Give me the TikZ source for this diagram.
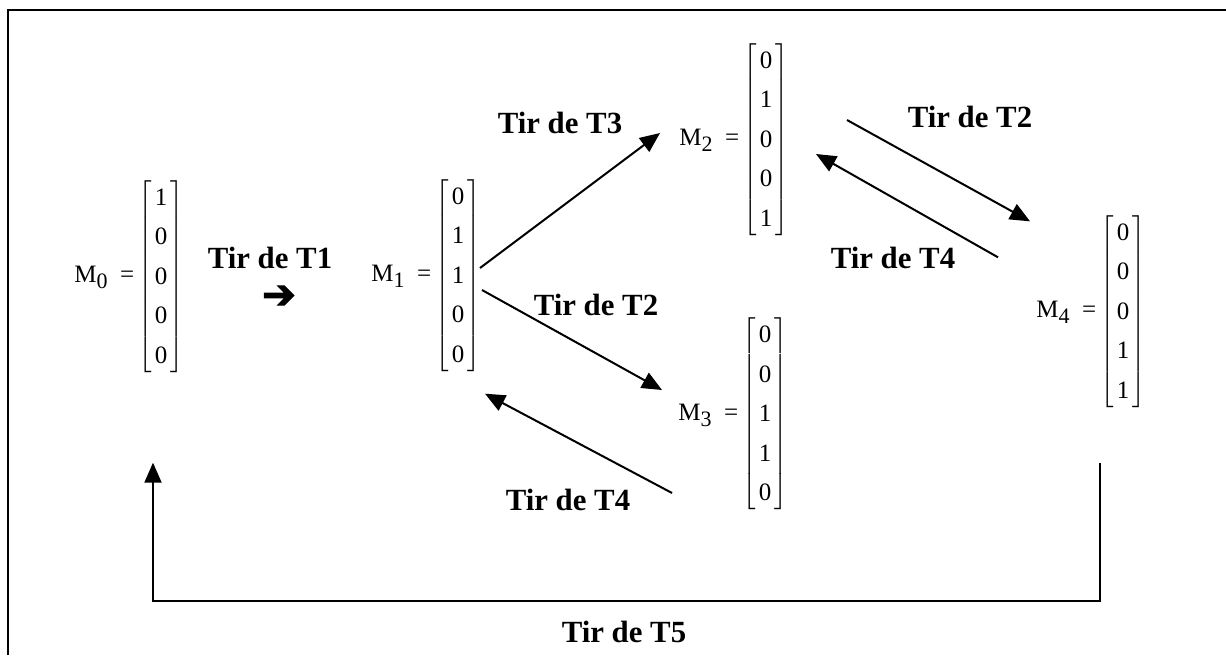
\documentclass[tikz,border=0pt]{standalone}
\usepackage{fontspec}
\setmainfont{Liberation Serif}
\newfontface\dingfont{DejaVu Sans}[FakeBold=3]
\usetikzlibrary{arrows.meta,calc}

% column vector in square brackets
\newcommand{\vect}[5]{%
  {\renewcommand{\arraystretch}{1.317}\setlength{\tabcolsep}{1.5pt}%
  $\left[\begin{tabular}{c}#1\\#2\\#3\\#4\\#5\end{tabular}\right]$}}
\newcommand{\mlab}[1]{M\raisebox{-0.55ex}{\fontsize{11}{13}\selectfont #1}\ \ =\,}

\begin{document}
\begin{tikzpicture}[x=0.5pt, y=-0.5pt, >={Triangle[length=10pt,width=8.5pt]},
	state/.style={inner sep=0pt, anchor=east, xshift=3pt, font=\fontsize{12.5}{15}\selectfont},
	tir/.style={font=\fontsize{15.4}{18}\selectfont\bfseries},
	fleche/.style={->, line width=1pt}]
	\useasboundingbox (0,0) rectangle (1226,655);
	\draw[line width=0.8pt] (8,655) -- (8,10) -- (1226,10);

	% markings
	\node[state] (m0) at (178,276.5) {\mlab{0}\vect{1}{0}{0}{0}{0}};
	\node[state] (m1) at (475,275.5) {\mlab{1}\vect{0}{1}{1}{0}{0}};
	\node[state] (m2) at (783,139.5) {\mlab{2}\vect{0}{1}{0}{0}{1}};
	\node[state] (m3) at (782,414) {\mlab{3}\vect{0}{0}{1}{1}{0}};
	\node[state] (m4) at (1140,311.5) {\mlab{4}\vect{0}{0}{0}{1}{1}};

	% firing labels
	\node[tir] (t1) at (270,258) {Tir de T1};
	\node[font=\dingfont\fontsize{20}{22}\selectfont] (a1) at (279,297) {➔};
	\node[tir] (t3) at (560,123) {Tir de T3};
	\node[tir] (t2a) at (596,305) {Tir de T2};
	\node[tir] (t4a) at (568,500) {Tir de T4};
	\node[tir] (t2b) at (970,117) {Tir de T2};
	\node[tir] (t4b) at (893,258) {Tir de T4};
	\node[tir] (t5) at (624,632) {Tir de T5};

	\draw[fleche] ($(m1.east)+(-1,-7.5)$) -- ($(m2.west)+(-19,-6.5)$);
	\draw[fleche] ($(m1.east)+(1,14.5)$) -- ($(m3.west)+(-16,-24)$);
	\draw[fleche] ($(m3.west)+(-6,79)$) -- ($(m1.south east)+(4,19)$);
	\draw[fleche] ($(m2.east)+(58,-19.5)$) -- ($(m4.north west)+(-6,9)$);
	\draw[fleche] ($(m4.north west)+(-38,45)$) -- ($(m2.east)+(27,14.5)$);
	\draw[fleche] ($(m4.south east)+(-46,52)$) -- ++(0,138) -| ($(m0.south east)+(-31,87)$);
\end{tikzpicture}
\end{document}
